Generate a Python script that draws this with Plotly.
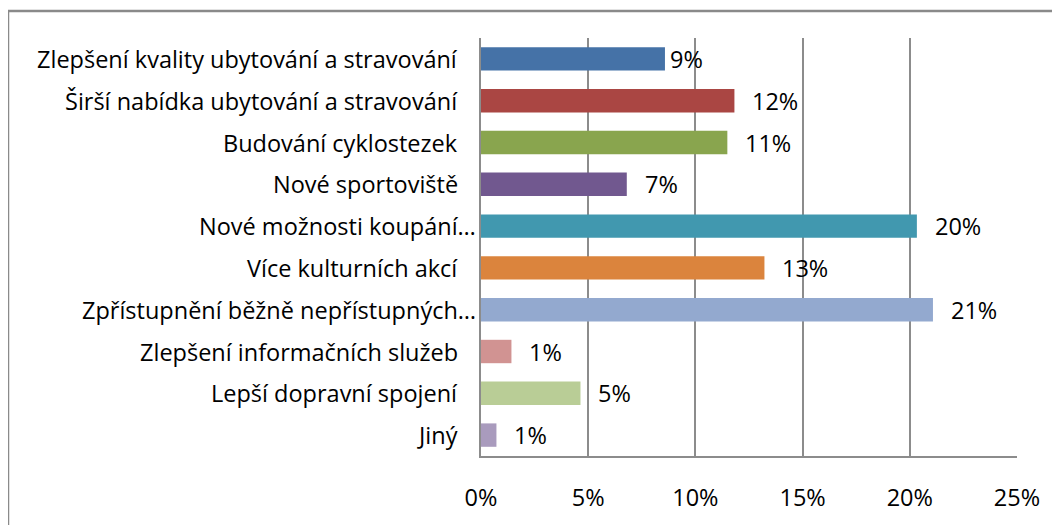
import plotly.graph_objects as go

categories = [
    "Zlepšení kvality ubytování a stravování",
    "Širší nabídka ubytování a stravování",
    "Budování cyklostezek",
    "Nové sportoviště",
    "Nové možnosti koupání…",
    "Více kulturních akcí",
    "Zpřístupnění běžně nepřístupných…",
    "Zlepšení informačních služeb",
    "Lepší dopravní spojení",
    "Jiný",
]
values = [8.58, 11.82, 11.49, 6.80, 20.33, 13.22, 21.08, 1.42, 4.64, 0.72]
labels = ["9%", "12%", "11%", "7%", "20%", "13%", "21%", "1%", "5%", "1%"]
colors = ["#4572A7", "#AA4643", "#89A54E", "#71588F", "#4198AF",
          "#DB843D", "#93A9CF", "#D19392", "#B9CD96", "#A99BBD"]
tick_vals = [0, 5, 10, 15, 20, 25]
tick_text = ["0%", "5%", "10%", "15%", "20%", "25%"]
label_gap = [3, 16, 16, 16, 16, 16, 16, 16, 16, 16]

FONT = "Open Sans"
FS = 23.5

# page body has an 8px default margin; plot area target in window: x 481..1017, y 38..456
OFF = 8
L, T = 481 - OFF, 38 - OFF
W, H = 536, 418

fig = go.Figure(go.Bar(
    x=values, y=categories, orientation="h",
    marker=dict(color=colors, line=dict(width=0)),
    width=0.56, hoverinfo="skip",
))

annotations = []
for cat, v, lab, g in zip(categories, values, labels, label_gap):
    annotations.append(dict(x=v, y=cat, xref="x", yref="y", text=lab,
                            showarrow=False, xanchor="left", yanchor="middle",
                            xshift=g, font=dict(family=FONT, size=FS, color="black")))
    shift = -3 if cat.endswith("…") else -21
    annotations.append(dict(x=0, y=cat, xref="x", yref="y", text=cat,
                            showarrow=False, xanchor="right", yanchor="middle",
                            xshift=shift, font=dict(family=FONT, size=FS, color="black")))

fig.add_shape(type="rect", xref="paper", yref="paper",
              x0=(8 - 481) / W, x1=(1075 - 481) / W,
              y0=(456 - 540) / H, y1=(456 - 11) / H,
              line=dict(color="#8a8a8a", width=2.5), fillcolor="rgba(0,0,0,0)",
              layer="below")

fig.update_layout(
    width=1060, height=525,
    margin=dict(l=L, r=1060 - L - W, t=T, b=525 - T - H),
    paper_bgcolor="white", plot_bgcolor="white",
    showlegend=False,
    annotations=annotations,
    xaxis=dict(range=[0, 25], tickvals=tick_vals, ticktext=tick_text,
               showgrid=True, gridcolor="#8c8c8c", gridwidth=1.5,
               showline=True, linecolor="#8c8c8c", linewidth=1.5,
               zeroline=False, ticks="", ticklabelstandoff=20,
               tickfont=dict(family=FONT, size=FS, color="black"), fixedrange=True),
    yaxis=dict(autorange="reversed", showticklabels=False, showgrid=False,
               showline=True, linecolor="#8c8c8c", linewidth=1.5,
               zeroline=False, ticks="", fixedrange=True),
    font=dict(family=FONT, size=FS, color="black"),
)

fig.write_html("out.html")
